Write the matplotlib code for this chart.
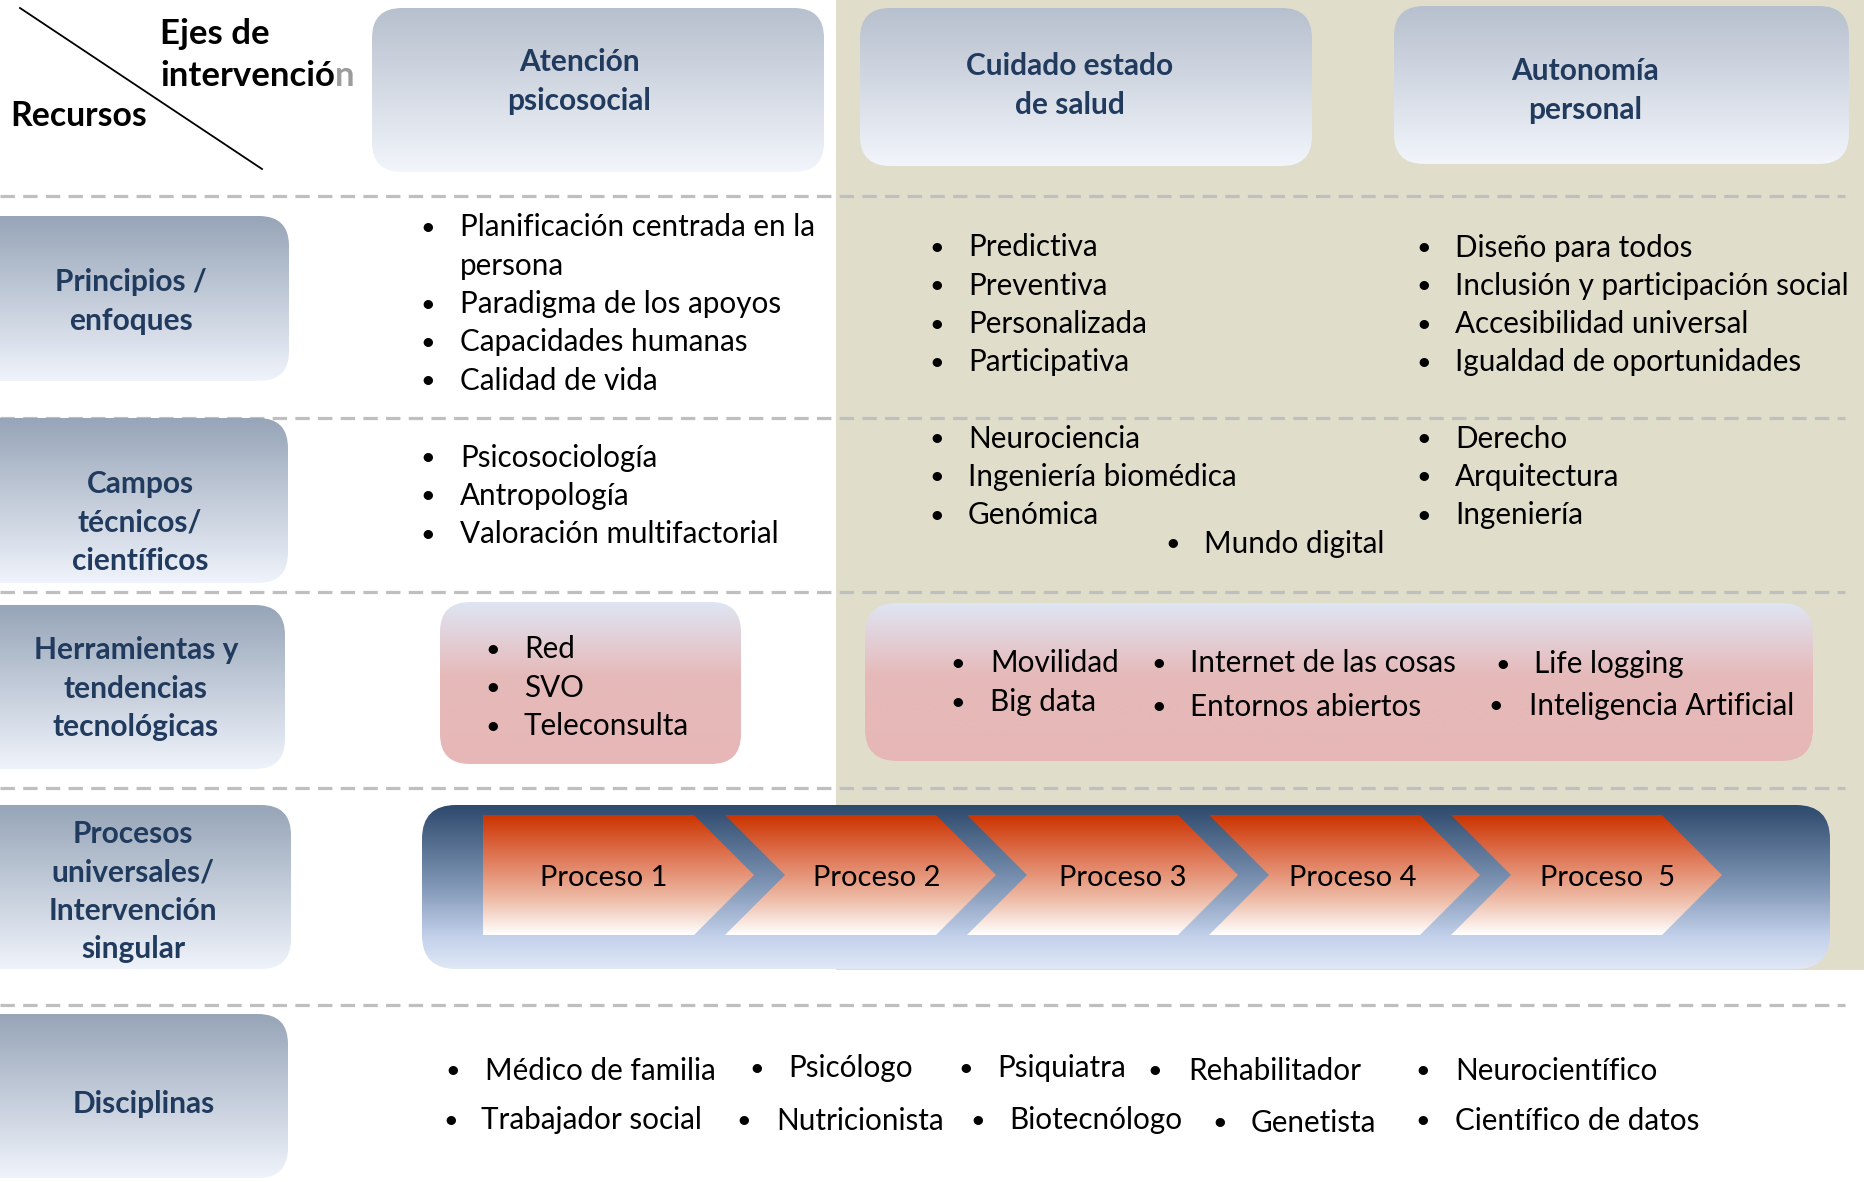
import numpy as np
import matplotlib
matplotlib.use("Agg")
import matplotlib.pyplot as plt
from matplotlib.patches import FancyBboxPatch, Polygon, Rectangle
from matplotlib.colors import LinearSegmentedColormap

# ---------------- data (texts) ----------------
axis_title = ["Ejes de", "intervención"]
resource_title = "Recursos"
axis_headers = ["Atención\npsicosocial", "Cuidado estado\nde salud", "Autonomía\npersonal"]
row_labels = ["Principios /\nenfoques", "Campos\ntécnicos/\ncientíficos",
              "Herramientas y\ntendencias\ntecnológicas",
              "Procesos\nuniversales/\nIntervención\nsingular", "Disciplinas"]
principios_psico = ["Planificación centrada en la\npersona", "Paradigma de los apoyos",
                    "Capacidades humanas", "Calidad de vida"]
principios_salud = ["Predictiva", "Preventiva", "Personalizada", "Participativa"]
principios_autonomia = ["Diseño para todos", "Inclusión y participación social",
                        "Accesibilidad universal", "Igualdad de oportunidades"]
campos_psico = ["Psicosociología", "Antropología", "Valoración multifactorial"]
campos_salud = ["Neurociencia", "Ingeniería biomédica", "Genómica"]
campos_compartido = ["Mundo digital"]
campos_autonomia = ["Derecho", "Arquitectura", "Ingeniería"]
herramientas_psico = ["Red", "SVO", "Teleconsulta"]
herramientas_tec = ["Movilidad", "Big data", "Internet de las cosas", "Entornos abiertos",
                    "Life logging", "Inteligencia Artificial"]
procesos = ["Proceso 1", "Proceso 2", "Proceso 3", "Proceso 4", "Proceso  5"]
disciplinas_fila1 = ["Médico de familia", "Psicólogo", "Psiquiatra", "Rehabilitador", "Neurocientífico"]
disciplinas_fila2 = ["Trabajador social", "Nutricionista", "Biotecnólogo", "Genetista", "Científico de datos"]

# ---------------- layout ----------------
W, H = 1864, 1182
plt.rcParams['font.family'] = ['Lato', 'DejaVu Sans']
NAVY = '#213B5F'
BODY = 21.3
LABEL = 21.5
YOFF = 1.5

fig = plt.figure(figsize=(W / 100, H / 100), dpi=100)
ax = fig.add_axes([0, 0, 1, 1])
ax.axis('off')
ax.set_xlim(0, W)
ax.set_ylim(H, 0)


def grad_fill(patch, y0, y1, x0, x1, stops, z):
    patch.set_facecolor('none')
    patch.set_edgecolor('none')
    patch.set_zorder(z + 0.05)
    ax.add_patch(patch)
    cmap = LinearSegmentedColormap.from_list('g', stops)
    g = np.linspace(0, 1, 256).reshape(-1, 1)
    im = ax.imshow(g, cmap=cmap, extent=(x0, x1, y1, y0), origin='upper',
                   aspect='auto', zorder=z, interpolation='bilinear')
    im.set_clip_path(patch)


def rbox(x0, y0, x1, y1, stops, r=28, z=2):
    p = FancyBboxPatch((x0, y0), x1 - x0, y1 - y0,
                       boxstyle=f"round,pad=0,rounding_size={r}")
    grad_fill(p, y0, y1, x0, x1, stops, z)


HEADER = [(0, '#B7C0CE'), (1, '#F2F5FB')]
LABELG = [(0, '#97A5B8'), (1, '#EFF3FB')]
PINK = [(0, '#DFE5F3'), (0.45, '#E6BABA'), (1, '#E6B7B6')]
PROC = [(0, '#2D496C'), (0.5, '#8298B7'), (0.8, '#C2D0EA'), (1, '#E0E8F6')]
CHEV = [(0, '#CB3400'), (0.35, '#DF7756'), (0.7, '#EEBBA7'), (1, '#FFFFFF')]

# beige background for the two right columns
ax.add_patch(Rectangle((836, 0), W - 836, 970, fc='#E0DDCB', ec='none', zorder=0))

# dashed separators
for y in [196, 418, 592, 788, 1005]:
    ax.plot([0, 1845], [y, y], color='#BFBFBF', lw=2.3, dashes=(4.5, 2.6), zorder=1)

# corner
ax.plot([20, 262], [8, 169], color='black', lw=1.3, zorder=3)
ax.text(160, 33 + YOFF, axis_title[0], fontsize=25, fontweight='bold', ha='left', va='center', zorder=4)
t_int = ax.text(160, 75 + YOFF, axis_title[1][:-1], fontsize=25, fontweight='bold',
                ha='left', va='center', zorder=4)
fig.canvas.draw()
bb = t_int.get_window_extent(renderer=fig.canvas.get_renderer())
ax.text(bb.x1, 75 + YOFF, axis_title[1][-1], fontsize=25, fontweight='bold', color='#9C9C9C',
        ha='left', va='center', zorder=4)
ax.text(10, 115 + YOFF, resource_title, fontsize=24.3, fontweight='bold', ha='left', va='center', zorder=4)

# header boxes
header_boxes = [(372, 8, 824, 172), (860, 8, 1312, 166), (1394, 6, 1849, 164)]
header_text = [(579, 80), (1070, 84), (1585, 89)]
STEP = 38.5
for (x0, y0, x1, y1), (tx, ty), txt in zip(header_boxes, header_text, axis_headers):
    rbox(x0, y0, x1, y1, HEADER, r=30)
    lines = txt.split('\n')
    for j, ln in enumerate(lines):
        yy = ty + (j - (len(lines) - 1) / 2) * STEP + YOFF
        ax.text(tx, yy, ln, fontsize=LABEL, fontweight='bold', color=NAVY,
                ha='center', va='center', zorder=5)

# row label boxes
label_boxes = [(216, 381, 289), (418, 583, 288), (605, 769, 285), (805, 969, 291), (1014, 1178, 288)]
label_text = [(131, 300), (140, 521), (136, 687), (133, 890), (144, 1102)]
for (y0, y1, x1), (tx, ty), txt in zip(label_boxes, label_text, row_labels):
    rbox(-40, y0, x1, y1, LABELG, r=30)
    lines = txt.split('\n')
    for j, ln in enumerate(lines):
        yy = ty + (j - (len(lines) - 1) / 2) * STEP + YOFF
        ax.text(tx, yy, ln, fontsize=LABEL, fontweight='bold', color=NAVY,
                ha='center', va='center', zorder=5)


def bullets(items, xb, xt, y_first, step=38.3, size=BODY, z=5):
    i = 0
    for item in items:
        for j, ln in enumerate(item.split('\n')):
            y = y_first + i * step + YOFF
            if j == 0:
                ax.text(xb, y, '•', fontsize=size * 0.85, ha='center', va='center', zorder=z)
            ax.text(xt, y, ln, fontsize=size, ha='left', va='center', zorder=z)
            i += 1


# Principios row
bullets(principios_psico, 428, 460, 226)
bullets(principios_salud, 937, 968, 246)
bullets(principios_autonomia, 1424, 1455, 246)

# Campos row
bullets(campos_psico, 428, 460, 456)
bullets(campos_salud, 937, 968, 437)
bullets(campos_compartido, 1173, 1204, 542)
bullets(campos_autonomia, 1424, 1455, 437)

# Herramientas row
rbox(440, 602, 741, 764, PINK, r=30)
bullets(herramientas_psico, 493, 524, 648)
rbox(865, 603, 1813, 761, PINK, r=32)
tec_pos = [(958, 990, 662), (958, 990, 701), (1159, 1190, 662), (1159, 1190, 705),
           (1503, 1534, 663), (1496, 1529, 704)]
for txt, (xb, xt, y) in zip(herramientas_tec, tec_pos):
    bullets([txt], xb, xt, y)

# Procesos row
rbox(422, 805, 1830, 969, PROC, r=34)
top, bot = 815, 935
mid = (top + bot) / 2
depth = (bot - top) / 2
body = 211
pitch = 242
proc_text_x = [604, 877, 1123, 1353, 1608]
for k, (lab, tx) in enumerate(zip(procesos, proc_text_x)):
    x0 = 483 + pitch * k
    pts = [(x0, top), (x0 + body, top), (x0 + body + depth, mid),
           (x0 + body, bot), (x0, bot)]
    if k > 0:
        pts.append((x0 + depth, mid))
    poly = Polygon(pts, closed=True)
    grad_fill(poly, top, bot, x0, x0 + body + depth, CHEV, z=3)
    ax.text(tx, mid + 2 + YOFF, lab, fontsize=21, ha='center', va='center', zorder=6)

# Disciplinas row
dis_x1 = [(453, 485), (757, 788), (966, 997), (1155, 1188), (1423, 1455)]
dis_x2 = [(451, 481), (744, 776), (978, 1009), (1220, 1251), (1423, 1455)]
dis_y1 = [1069, 1067, 1067, 1069, 1069]
dis_y2 = [1119, 1119, 1119, 1121, 1119]
for txt, (xb, xt), y in zip(disciplinas_fila1, dis_x1, dis_y1):
    bullets([txt], xb, xt, y)
for txt, (xb, xt), y in zip(disciplinas_fila2, dis_x2, dis_y2):
    bullets([txt], xb, xt, y)

ax.set_xlim(0, W)
ax.set_ylim(H, 0)
fig.savefig('out.png', dpi=100, facecolor='white')
